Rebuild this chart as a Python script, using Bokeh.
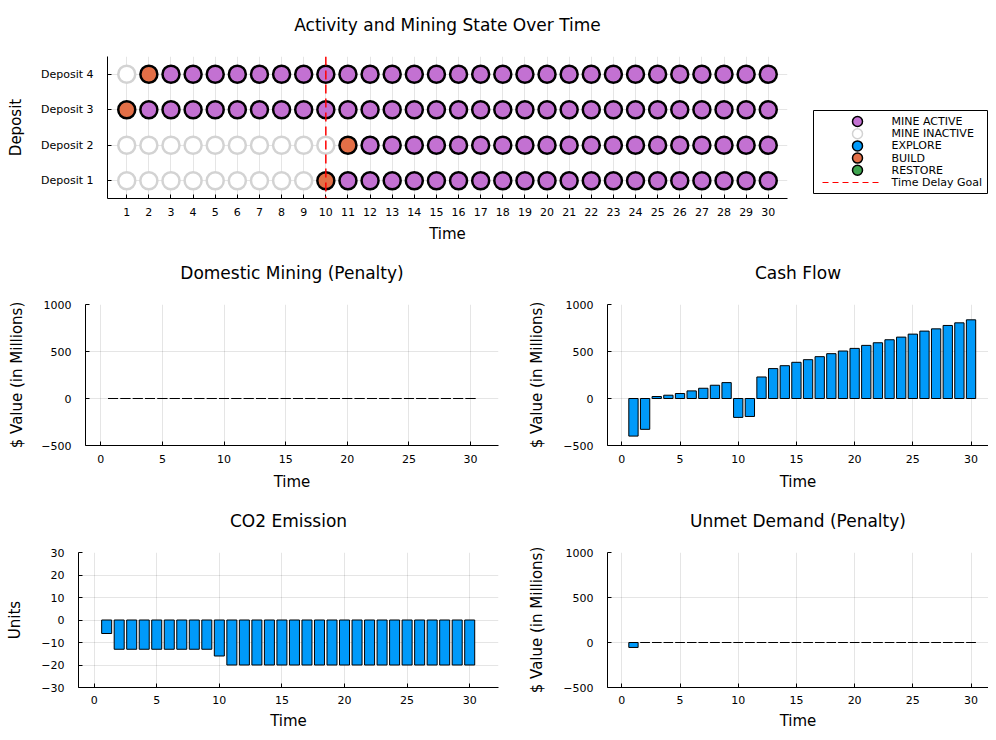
from bokeh.plotting import figure
from bokeh.layouts import column, row
from bokeh.models import ColumnDataSource, Span, FixedTicker, Range1d, Title
from bokeh.core.properties import value
from bokeh.embed import file_html
from bokeh.resources import INLINE

# ---------------- data ----------------
time = [1, 2, 3, 4, 5, 6, 7, 8, 9, 10, 11, 12, 13, 14, 15,
        16, 17, 18, 19, 20, 21, 22, 23, 24, 25, 26, 27, 28, 29, 30]
deposits = ["Deposit 1", "Deposit 2", "Deposit 3", "Deposit 4"]

# state codes: I = mine inactive, B = build, A = mine active, E = explore, R = restore
deposit_1_state = ["I", "I", "I", "I", "I", "I", "I", "I", "I", "B",
                   "A", "A", "A", "A", "A", "A", "A", "A", "A", "A",
                   "A", "A", "A", "A", "A", "A", "A", "A", "A", "A"]
deposit_2_state = ["I", "I", "I", "I", "I", "I", "I", "I", "I", "I",
                   "B", "A", "A", "A", "A", "A", "A", "A", "A", "A",
                   "A", "A", "A", "A", "A", "A", "A", "A", "A", "A"]
deposit_3_state = ["B", "A", "A", "A", "A", "A", "A", "A", "A", "A",
                   "A", "A", "A", "A", "A", "A", "A", "A", "A", "A",
                   "A", "A", "A", "A", "A", "A", "A", "A", "A", "A"]
deposit_4_state = ["I", "B", "A", "A", "A", "A", "A", "A", "A", "A",
                   "A", "A", "A", "A", "A", "A", "A", "A", "A", "A",
                   "A", "A", "A", "A", "A", "A", "A", "A", "A", "A"]
time_delay_goal = 10

domestic_mining = [0, 0, 0, 0, 0, 0, 0, 0, 0, 0, 0, 0, 0, 0, 0,
                   0, 0, 0, 0, 0, 0, 0, 0, 0, 0, 0, 0, 0, 0, 0]
cash_flow = [-400, -328, 21, 35, 53, 81, 109, 141, 169, -201,
             -191, 229, 318, 349, 385, 413, 445, 477, 505, 533,
             565, 593, 625, 653, 685, 717, 741, 777, 805, 837]
co2_emission = [-6, -13, -13, -13, -13, -13, -13, -13, -13, -16,
                -20, -20, -20, -20, -20, -20, -20, -20, -20, -20,
                -20, -20, -20, -20, -20, -20, -20, -20, -20, -20]
unmet_demand = [-55, 0, 0, 0, 0, 0, 0, 0, 0, 0, 0, 0, 0, 0, 0,
                0, 0, 0, 0, 0, 0, 0, 0, 0, 0, 0, 0, 0, 0, 0]

money_ticks = [-500, 0, 500, 1000]
co2_ticks = [-30, -20, -10, 0, 10, 20, 30]
time_ticks = [0, 5, 10, 15, 20, 25, 30]

state_labels = ["MINE ACTIVE", "MINE INACTIVE", "EXPLORE", "BUILD", "RESTORE"]
state_codes = ["A", "I", "E", "B", "R"]
goal_label = "Time Delay Goal"

# ---------------- style ----------------
FONT = "DejaVu Sans"
BLUE = "#009AFA"
ORANGE = "#E36F47"
GREEN = "#3EA44E"
PURPLE = "#C371D2"
INACTIVE_EDGE = "#D3D3D3"
state_fill = [PURPLE, "white", BLUE, ORANGE, GREEN]
state_edge = ["black", INACTIVE_EDGE, "black", "black", "black"]


def minus(v):
    return str(v).replace("-", "\u2212")


def add_title(p, text):
    # spacer next to the frame, then the visible title above it
    spacer = Title(text=" ", text_font=FONT, text_font_size="17px", standoff=0)
    p.add_layout(spacer, "above")
    t = Title(text=text, text_font=FONT, text_font_size="17px", text_font_style="normal",
              align="center", vertical_align="bottom", text_color="black", standoff=0)
    p.add_layout(t, "above")


def style(p, ylabel_standoff, xlab_standoff=9, xaxis_standoff=7):
    p.outline_line_color = None
    p.background_fill_color = "white"
    p.border_fill_color = "white"
    for ax in (p.xaxis[0], p.yaxis[0]):
        ax.axis_line_color = "black"
        ax.axis_line_width = 1
        ax.major_tick_in = 4
        ax.major_tick_out = 0
        ax.major_tick_line_color = "black"
        ax.minor_tick_line_color = None
        ax.major_label_text_font = FONT
        ax.major_label_text_font_size = "11px"
        ax.major_label_text_color = "black"
        ax.axis_label_text_font = FONT
        ax.axis_label_text_font_size = "15px"
        ax.axis_label_text_font_style = "normal"
        ax.axis_label_text_color = "black"
    p.xaxis[0].major_label_standoff = xlab_standoff
    p.xaxis[0].axis_label_standoff = xaxis_standoff
    p.yaxis[0].major_label_standoff = 14
    p.yaxis[0].axis_label_standoff = ylabel_standoff
    for g in p.grid:
        g.grid_line_color = "black"
        g.grid_line_alpha = 0.1
        g.grid_line_width = 1


# ---------------- top chart ----------------
top = figure(width=788, height=250, output_backend="svg", toolbar_location=None,
             x_range=Range1d(0.13, 30.87), y_range=Range1d(0.5, 4.5),
             min_border_left=107, min_border_right=1, min_border_top=56,
             min_border_bottom=52, x_axis_label="Time", y_axis_label="Deposit")
style(top, 13, 9, 6)
add_title(top, "Activity and Mining State Over Time")
top.xaxis.ticker = FixedTicker(ticks=time)
top.yaxis.ticker = FixedTicker(ticks=[1, 2, 3, 4])
top.yaxis.major_label_overrides = {i + 1: name for i, name in enumerate(deposits)}

states = [deposit_1_state, deposit_2_state, deposit_3_state, deposit_4_state]


def points(code):
    xs, ys = [], []
    for d, st in enumerate(states):
        for t, s in zip(time, st):
            if s == code:
                xs.append(t)
                ys.append(d + 1)
    return ColumnDataSource(dict(x=xs, y=ys))


MS = 17
for code, fill, edge in zip(state_codes, state_fill, state_edge):
    top.scatter("x", "y", source=points(code), size=MS, fill_color=fill,
                line_color=edge, line_width=2.5)

goal = Span(location=time_delay_goal, dimension="height", line_color="red",
            line_dash="9 5", line_width=1.5)
top.add_layout(goal)

# ---------------- legend panel (screen-pixel space, y down, aligned with top frame) ----
leg_fig = figure(width=200, height=250, output_backend="svg", toolbar_location=None,
                 x_axis_type=None, y_axis_type=None, x_range=Range1d(0, 200),
                 y_range=Range1d(198, 56), min_border=0)
leg_fig.outline_line_color = None
leg_fig.grid.visible = False

ROW0, PITCH = 121, 12.2
rows_y = [ROW0 + PITCH * i for i in range(len(state_labels) + 1)]
leg_fig.quad(left=[25], right=[199], top=[110], bottom=[193], fill_color="white",
             line_color="black", line_width=1)
leg_fig.scatter(x=[69] * len(state_labels), y=rows_y[:-1], size=10,
                fill_color=state_fill, line_color=state_edge, line_width=1.5)
leg_fig.segment(x0=[34], x1=[90], y0=[rows_y[-1]], y1=[rows_y[-1]], line_color="red",
                line_dash="6 4", line_width=1.2)
leg_fig.text(x=[103] * (len(state_labels) + 1), y=rows_y,
             text=state_labels + [goal_label], text_font=value(FONT),
             text_font_size=value("11px"), text_baseline="middle", text_align="left",
             text_color="black")


# ---------------- bar charts ----------------
def bar_chart(title, values, width, ml, mr, mt, fh, mb, xr, yr, yticks, ylabel,
              ystand, xlab_standoff=9, xaxis_standoff=7):
    p = figure(width=width, height=mt + fh + mb, output_backend="svg", toolbar_location=None,
               x_range=Range1d(*xr), y_range=Range1d(*yr),
               min_border_left=ml, min_border_right=mr, min_border_top=mt,
               min_border_bottom=mb, x_axis_label="Time", y_axis_label=ylabel)
    style(p, ystand, xlab_standoff, xaxis_standoff)
    add_title(p, title)
    p.xaxis.ticker = FixedTicker(ticks=time_ticks)
    p.yaxis.ticker = FixedTicker(ticks=yticks)
    p.yaxis.major_label_overrides = {v: minus(v) for v in yticks}
    src = ColumnDataSource(dict(x=time, top=values))
    p.vbar(x="x", top="top", bottom=0, width=0.8, source=src, fill_color=BLUE,
           line_color="black", line_width=1)
    return p


ml_p = bar_chart("Domestic Mining (Penalty)", domestic_mining, 520, 85, 22, 54, 141, 52,
                 (-1.24, 32.27), (-500, 1000), money_ticks, "$ Value (in Millions)", 12)
mr_p = bar_chart("Cash Flow", cash_flow, 468, 87, 0, 54, 141, 52,
                 (-1.23, 31.5), (-500, 1000), money_ticks, "$ Value (in Millions)", 14)
bl_p = bar_chart("CO2 Emission", co2_emission, 520, 78, 22, 55, 135, 45,
                 (-1.25, 32.3), (-30, 30), co2_ticks, "Units", 14, 8, 5)
br_p = bar_chart("Unmet Demand (Penalty)", unmet_demand, 468, 87, 0, 55, 135, 45,
                 (-1.23, 31.5), (-500, 1000), money_ticks, "$ Value (in Millions)", 14, 8, 5)

layout = column(row(top, leg_fig), row(ml_p, mr_p), row(bl_p, br_p))
open("out.html", "w").write(file_html(layout, INLINE))
